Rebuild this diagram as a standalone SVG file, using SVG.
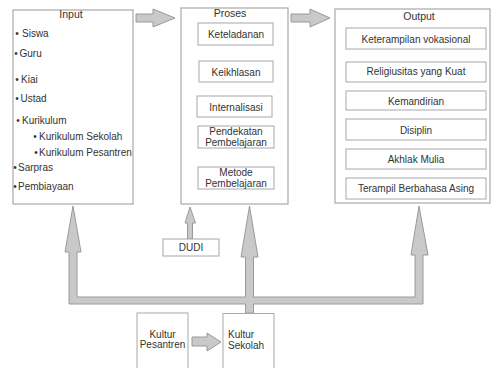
<svg xmlns="http://www.w3.org/2000/svg" width="492" height="368" viewBox="0 0 492 368">
<style>
.box{fill:#fff;stroke:#a8a8a8;stroke-width:1.2}
.ibox{fill:#fff;stroke:#a8a8a8;stroke-width:1}
.arr{fill:#c9c9c9;stroke:#9a9a9a;stroke-width:1;stroke-linejoin:miter}
text{font-family:"Liberation Sans",Arial,sans-serif;font-size:10px;fill:#333}
.c{text-anchor:middle}
.h{font-size:10.5px}
</style>
<rect width="492" height="368" fill="#fff"/>
<g id="connectors">
<path class="arr" d="M136,14 H153 V9 L175,18 L153,27 V22 H136 Z"/>
<path class="arr" d="M291,14 H310 V9 L330,18 L310,27 V22 H291 Z"/>
<path class="arr" d="M187.5,239 V223 H185 L190,207 L195.5,223 H192.5 V239 Z"/>
<path class="arr" d="M192,337 H207 V333 L221,342 L207,351 V346 H192 Z"/>
<path class="arr" d="M69,304 H245.5 V313 H253.5 V304 H423 V255 H428 L419,206 L411,255 H415 V297 H253.5 V257 H258 L249.5,206 L241,257 H245.5 V297 H77 V252 H81 L73,206 L65,252 H69 Z"/>
</g>
<g id="input">
<rect class="box" x="13" y="10" width="120" height="194"/>
<text class="c h" x="71" y="18">Input</text>
<text y="37"><tspan x="15.3">•</tspan><tspan x="22">Siswa</tspan></text>
<text y="57"><tspan x="14.3">•</tspan><tspan x="19.5">Guru</tspan></text>
<text y="83"><tspan x="15.3">•</tspan><tspan x="21">Kiai</tspan></text>
<text y="102"><tspan x="15.3">•</tspan><tspan x="20.5">Ustad</tspan></text>
<text y="124"><tspan x="16.3">•</tspan><tspan x="22">Kurikulum</tspan></text>
<text y="140"><tspan x="33.3">•</tspan><tspan x="39">Kurikulum Sekolah</tspan></text>
<text y="156"><tspan x="34.3">•</tspan><tspan x="39">Kurikulum Pesantren</tspan></text>
<text y="171"><tspan x="13.3">•</tspan><tspan x="18">Sarpras</tspan></text>
<text y="190"><tspan x="13.3">•</tspan><tspan x="18">Pembiayaan</tspan></text>
</g>
<g id="proses">
<rect class="box" x="181" y="8" width="107" height="196"/>
<text class="c h" x="230" y="17">Proses</text>
</g>
<g id="keteladanan">
<rect class="ibox" x="198" y="23" width="75" height="22"/>
<text class="c" x="236" y="37.5">Keteladanan</text>
</g>
<g id="keikhlasan">
<rect class="ibox" x="199" y="61" width="74" height="21"/>
<text class="c" x="236" y="75.5">Keikhlasan</text>
</g>
<g id="internalisasi">
<rect class="ibox" x="197" y="96" width="75" height="21"/>
<text class="c" x="236" y="110.5">Internalisasi</text>
</g>
<g id="pendekatan">
<rect class="ibox" x="198" y="126" width="76" height="22"/>
<text class="c" x="236" y="134.5">Pendekatan</text>
<text class="c" x="236" y="145.5">Pembelajaran</text>
</g>
<g id="metode">
<rect class="ibox" x="198" y="167" width="76" height="22"/>
<text class="c" x="236" y="175.5">Metode</text>
<text class="c" x="236" y="186.5">Pembelajaran</text>
</g>
<g id="output">
<rect class="box" x="335" y="9" width="155" height="194"/>
<text class="c h" x="419" y="19.5">Output</text>
</g>
<g id="o1"><rect class="ibox" x="346" y="28" width="140" height="21"/><text class="c" x="416" y="42.5">Keterampilan vokasional</text></g>
<g id="o2"><rect class="ibox" x="346" y="62" width="140" height="20"/><text class="c" x="416" y="74.5">Religiusitas yang Kuat</text></g>
<g id="o3"><rect class="ibox" x="346" y="91" width="140" height="19"/><text class="c" x="416" y="104.5">Kemandirian</text></g>
<g id="o4"><rect class="ibox" x="346" y="119" width="140" height="21"/><text class="c" x="416" y="133.5">Disiplin</text></g>
<g id="o5"><rect class="ibox" x="346" y="149" width="140" height="20"/><text class="c" x="416" y="162.5">Akhlak Mulia</text></g>
<g id="o6"><rect class="ibox" x="346" y="178" width="140" height="21"/><text class="c" x="416" y="192">Terampil Berbahasa Asing</text></g>
<g id="dudi">
<rect class="ibox" x="163" y="239" width="56" height="17"/>
<text class="c" x="191" y="251">DUDI</text>
</g>
<g id="kultur-pesantren">
<rect class="ibox" x="137" y="313" width="51" height="60"/>
<text class="c" x="162.5" y="337.5">Kultur</text>
<text class="c" x="162.5" y="348">Pesantren</text>
</g>
<g id="kultur-sekolah">
<rect class="ibox" x="223" y="313.5" width="51" height="60"/>
<text x="228" y="338">Kultur</text>
<text x="228" y="349">Sekolah</text>
</g>
</svg>
